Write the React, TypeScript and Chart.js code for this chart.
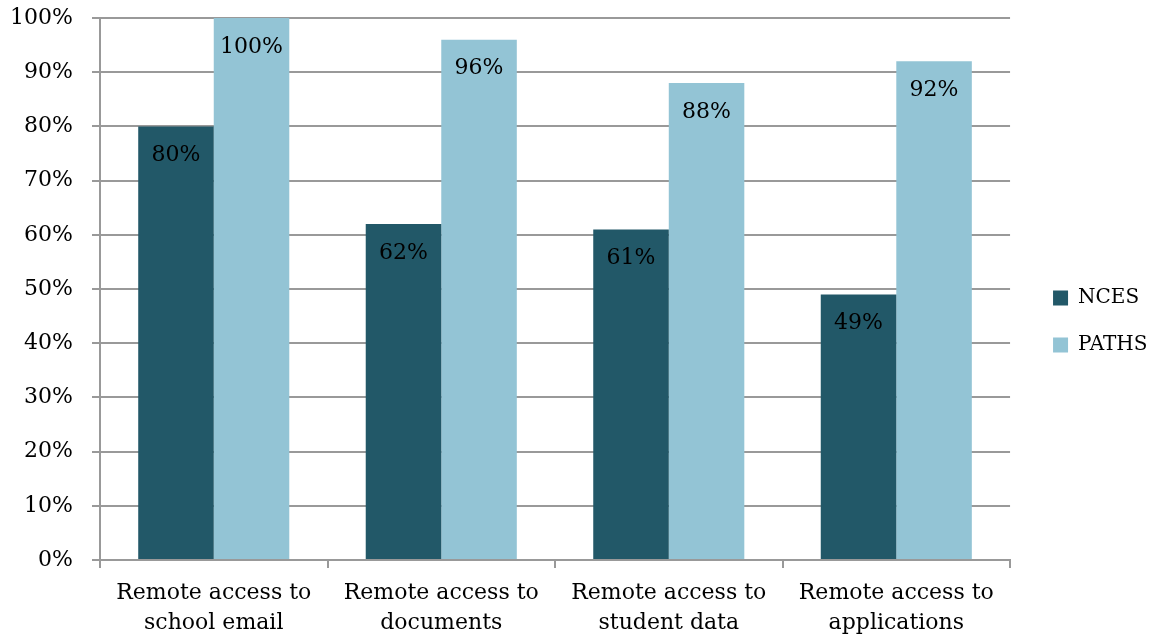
import React, { useEffect, useRef } from "react";
import { Chart, registerables } from "chart.js";

Chart.register(...registerables);

const categories: string[][] = [
  ["Remote access to", "school email"],
  ["Remote access to", "documents"],
  ["Remote access to", "student data"],
  ["Remote access to", "applications"],
];
const seriesNames = ["NCES", "PATHS"];
const ncesValues = [80, 62, 61, 49];
const pathsValues = [100, 96, 88, 92];
const seriesColors = ["#225868", "#93C4D5"];

const FONT = "'DejaVu Serif', serif";
const AXIS = "#999999";

const valueLabels = {
  id: "valueLabels",
  afterDatasetsDraw(chart: any) {
    const ctx = chart.ctx;
    ctx.save();
    ctx.font = `22px ${FONT}`;
    ctx.fillStyle = "#000";
    ctx.textAlign = "center";
    ctx.textBaseline = "middle";
    chart.data.datasets.forEach((ds: any, di: number) => {
      const meta = chart.getDatasetMeta(di);
      meta.data.forEach((el: any, i: number) => {
        ctx.fillText(`${ds.data[i]}%`, el.x, el.y + 29);
      });
    });
    ctx.restore();
  },
};

const legendShift = {
  id: "legendShift",
  afterLayout(chart: any) {
    const lg = chart.legend;
    if (!lg) return;
    const dx = 16;
    const dy = -6;
    lg.left += dx;
    lg.right += dx;
    lg.top += dy;
    lg.bottom += dy;
  },
};

export default function App() {
  const ref = useRef<HTMLCanvasElement | null>(null);
  useEffect(() => {
    if (!ref.current) return;
    const chart = new Chart(ref.current, {
      type: "bar",
      data: {
        labels: categories,
        datasets: [
          {
            label: seriesNames[0],
            data: ncesValues,
            backgroundColor: seriesColors[0],
            categoryPercentage: 0.664,
            barPercentage: 1.0,
          },
          {
            label: seriesNames[1],
            data: pathsValues,
            backgroundColor: seriesColors[1],
            categoryPercentage: 0.664,
            barPercentage: 1.0,
          },
        ],
      },
      options: {
        responsive: false,
        animation: false,
        layout: { padding: { top: 18, right: 14.5, left: 0, bottom: 0 } },
        plugins: {
          legend: {
            position: "right",
            labels: {
              boxWidth: 15,
              boxHeight: 15,
              padding: 27,
              color: "#000",
              font: { family: FONT, size: 20 },
            },
          },
          tooltip: { enabled: false },
        },
        scales: {
          x: {
            grid: {
              offset: true,
              drawOnChartArea: false,
              drawTicks: true,
              tickLength: 8,
              color: AXIS,
              lineWidth: 2,
            },
            border: { display: true, color: AXIS, width: 2 },
            ticks: {
              color: "#000",
              padding: 10,
              maxRotation: 0,
              autoSkip: false,
              font: { family: FONT, size: 22, lineHeight: 1.36 },
            },
            afterFit(scale: any) {
              scale.height = 77;
            },
          },
          y: {
            min: 0,
            max: 100,
            grid: {
              color: AXIS,
              lineWidth: 2,
              tickLength: 8,
              drawTicks: true,
            },
            border: { display: true, color: AXIS, width: 2 },
            ticks: {
              stepSize: 10,
              color: "#000",
              padding: 19,
              font: { family: FONT, size: 22 },
              callback: (v: any) => `${v}%`,
            },
            afterFit(scale: any) {
              scale.width = 100;
              scale.paddingTop = 0;
              scale.paddingBottom = 0;
            },
          },
        },
      },
      plugins: [valueLabels, legendShift],
    });
    return () => chart.destroy();
  }, []);
  return (
    <canvas
      ref={ref}
      width={1156}
      height={637}
      style={{ position: "fixed", left: 0, top: 0, display: "block", background: "#fff" }}
    />
  );
}
